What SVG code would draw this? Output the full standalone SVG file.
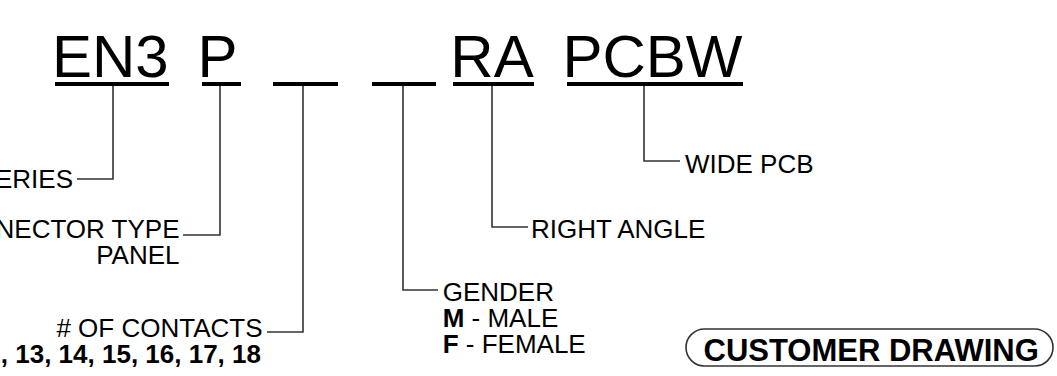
<svg xmlns="http://www.w3.org/2000/svg" width="1057" height="376" viewBox="0 0 1057 376">
<style>
.t{font-family:"Liberation Sans",Arial,sans-serif;fill:#000}
.big{font-size:60px}
.sm{font-size:26px}
.b{font-weight:bold}
.ul{fill:#000}
.ld{fill:none;stroke:#333;stroke-width:1.6}
</style>
<rect width="1057" height="376" fill="#fff"/>
<g id="title">
<text class="t big" x="52" y="77">EN3</text>
<text class="t big" x="197.4" y="77">P</text>
<text class="t big" x="450.3" y="77">RA</text>
<text class="t big" x="562.4" y="77">PCBW</text>
<rect class="ul" x="55" y="82" width="114" height="4"/>
<rect class="ul" x="202" y="82" width="39" height="4"/>
<rect class="ul" x="273" y="82" width="65" height="4"/>
<rect class="ul" x="372" y="82" width="64" height="4"/>
<rect class="ul" x="453" y="82" width="81" height="4"/>
<rect class="ul" x="567" y="82" width="176" height="4"/>
</g>
<g id="connectors">
<polyline class="ld" points="113,86 113,179 77,179"/>
<polyline class="ld" points="220,86 220,235 183,235"/>
<polyline class="ld" points="303,86 303,332 267,332"/>
<polyline class="ld" points="403,86 403,290 438,290"/>
<polyline class="ld" points="492,86 492,227 528,227"/>
<polyline class="ld" points="644,86 644,161 680,161"/>
</g>
<g id="series">
<text class="t sm" x="73" y="188" text-anchor="end">SERIES</text>
</g>
<g id="connector-type">
<text class="t sm" x="179.5" y="238" text-anchor="end">CONNECTOR TYPE</text>
<text class="t sm" x="179.5" y="264" text-anchor="end">PANEL</text>
</g>
<g id="contacts">
<text class="t sm" x="262.5" y="337" text-anchor="end"># OF CONTACTS</text>
<text class="t sm b" x="261" y="363" text-anchor="end">10, 11, 12, 13, 14, 15, 16, 17, 18</text>
</g>
<g id="gender">
<text class="t sm" x="442.7" y="301">GENDER</text>
<text class="t sm" x="442.7" y="327"><tspan class="b">M</tspan> - MALE</text>
<text class="t sm" x="442.7" y="353"><tspan class="b">F</tspan> - FEMALE</text>
</g>
<g id="right-angle">
<text class="t sm" x="531" y="238">RIGHT ANGLE</text>
</g>
<g id="wide-pcb">
<text class="t sm" x="685" y="173">WIDE PCB</text>
</g>
<g id="customer-drawing">
<rect x="686" y="329" width="367" height="37" rx="18.5" ry="18.5" fill="none" stroke="#333" stroke-width="1.6"/>
<text class="t b" style="font-size:31px" x="703.5" y="361">CUSTOMER DRAWING</text>
</g>
</svg>
